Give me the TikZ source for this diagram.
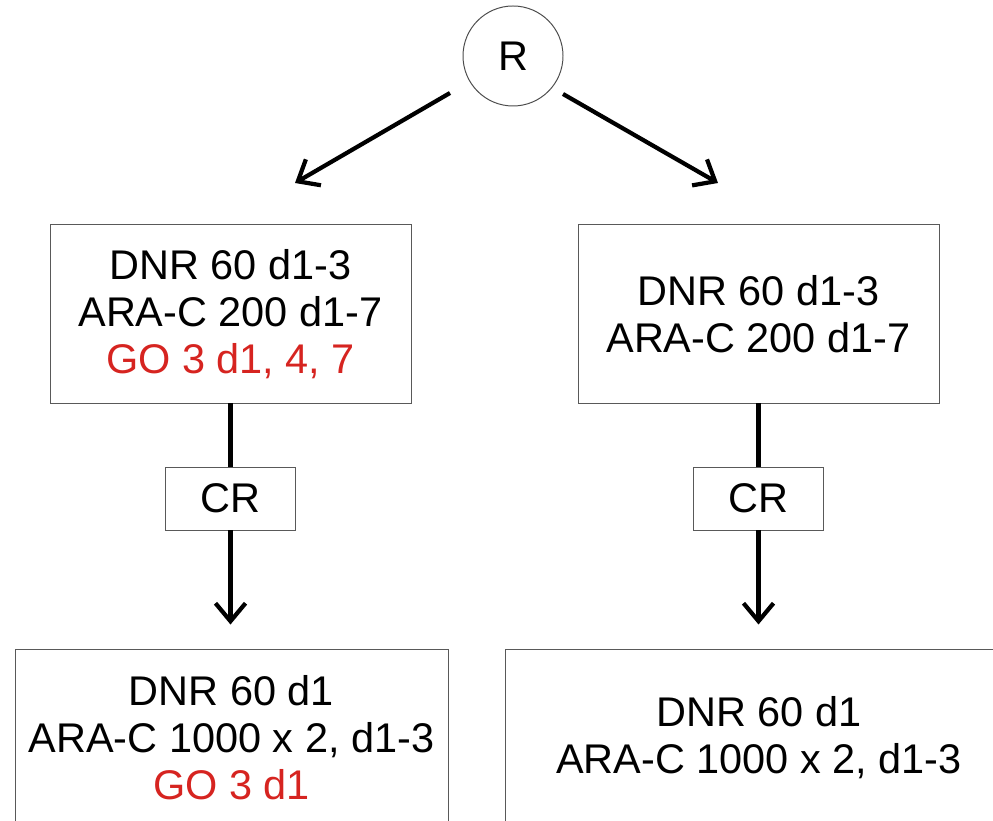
\documentclass[tikz,border=0pt]{standalone}
\usepackage{fontspec}
\setsansfont{Liberation Sans}
\usetikzlibrary{positioning, arrows.meta, calc}
\definecolor{dosered}{RGB}{214,36,32}

\begin{document}
\begin{tikzpicture}[
    font=\sffamily\fontsize{29.5}{33.5}\selectfont,
    box/.style={
        draw=black!65, line width=0.7pt,
        minimum width=9.025cm, minimum height=4.45cm,
        align=center, inner sep=0pt,
    },
    crbox/.style={box, minimum width=3.25cm, minimum height=1.575cm},
    rootnode/.style={circle, draw=black!70, line width=0.7pt, minimum size=2.5cm, inner sep=0pt},
    arrow/.style={-{Straight Barb[length=0.45cm, width=0.75cm]}, line width=3pt},
    link/.style={line width=3pt},
]

% page frame, the lower boxes run past it
\clip (0,0) rectangle (24.825,20.525);

% ============ NODES ============

% Root
\node[rootnode] (root) at (12.825, 19.125) {R};

% Induction row
\node[box] (indL) at (5.7625, 12.675)
    {DNR 60 d1-3 \\ ARA-C 200 d1-7 \\ \textcolor{dosered}{GO 3 d1, 4, 7}};
\node[box] (indR) at (18.9625, 12.675)
    {DNR 60 d1-3 \\ ARA-C 200 d1-7};

% Response boxes
\node[crbox] (crL) at (5.7625, 8.0625)  {CR};
\node[crbox] (crR) at (18.9625, 8.0625) {CR};

% Consolidation row
\node[box, minimum width=10.825cm] (consL) at (5.7875, 2.075)
    {DNR 60 d1 \\ ARA-C 1000 x 2, d1-3 \\ \textcolor{dosered}{GO 3 d1}};
\node[box, minimum width=12.7cm] (consR) at (18.975, 2.075)
    {DNR 60 d1 \\ ARA-C 1000 x 2, d1-3};

% arrow ends round the root
\coordinate (splitL) at ($(root)+(-1.575,-0.925)$);
\coordinate (splitR) at ($(root)+(1.25,-0.95)$);
\coordinate (tipL)   at (7.375, 15.95);
\coordinate (tipR)   at (17.95, 15.95);

% ============ ARROWS ============

% Root -> both arms
\draw[arrow] (splitL) -- (tipL);
\draw[arrow] (splitR) -- (tipR);

% Induction -> CR
\draw[link] (indL.south) -- (crL.north);
\draw[link] (indR.south) -- (crR.north);

% CR -> consolidation
\draw[arrow, shorten >=0.6cm] (crL.south) -- (crL.south |- consL.north);
\draw[arrow, shorten >=0.6cm] (crR.south) -- (crR.south |- consR.north);

\end{tikzpicture}
\end{document}
